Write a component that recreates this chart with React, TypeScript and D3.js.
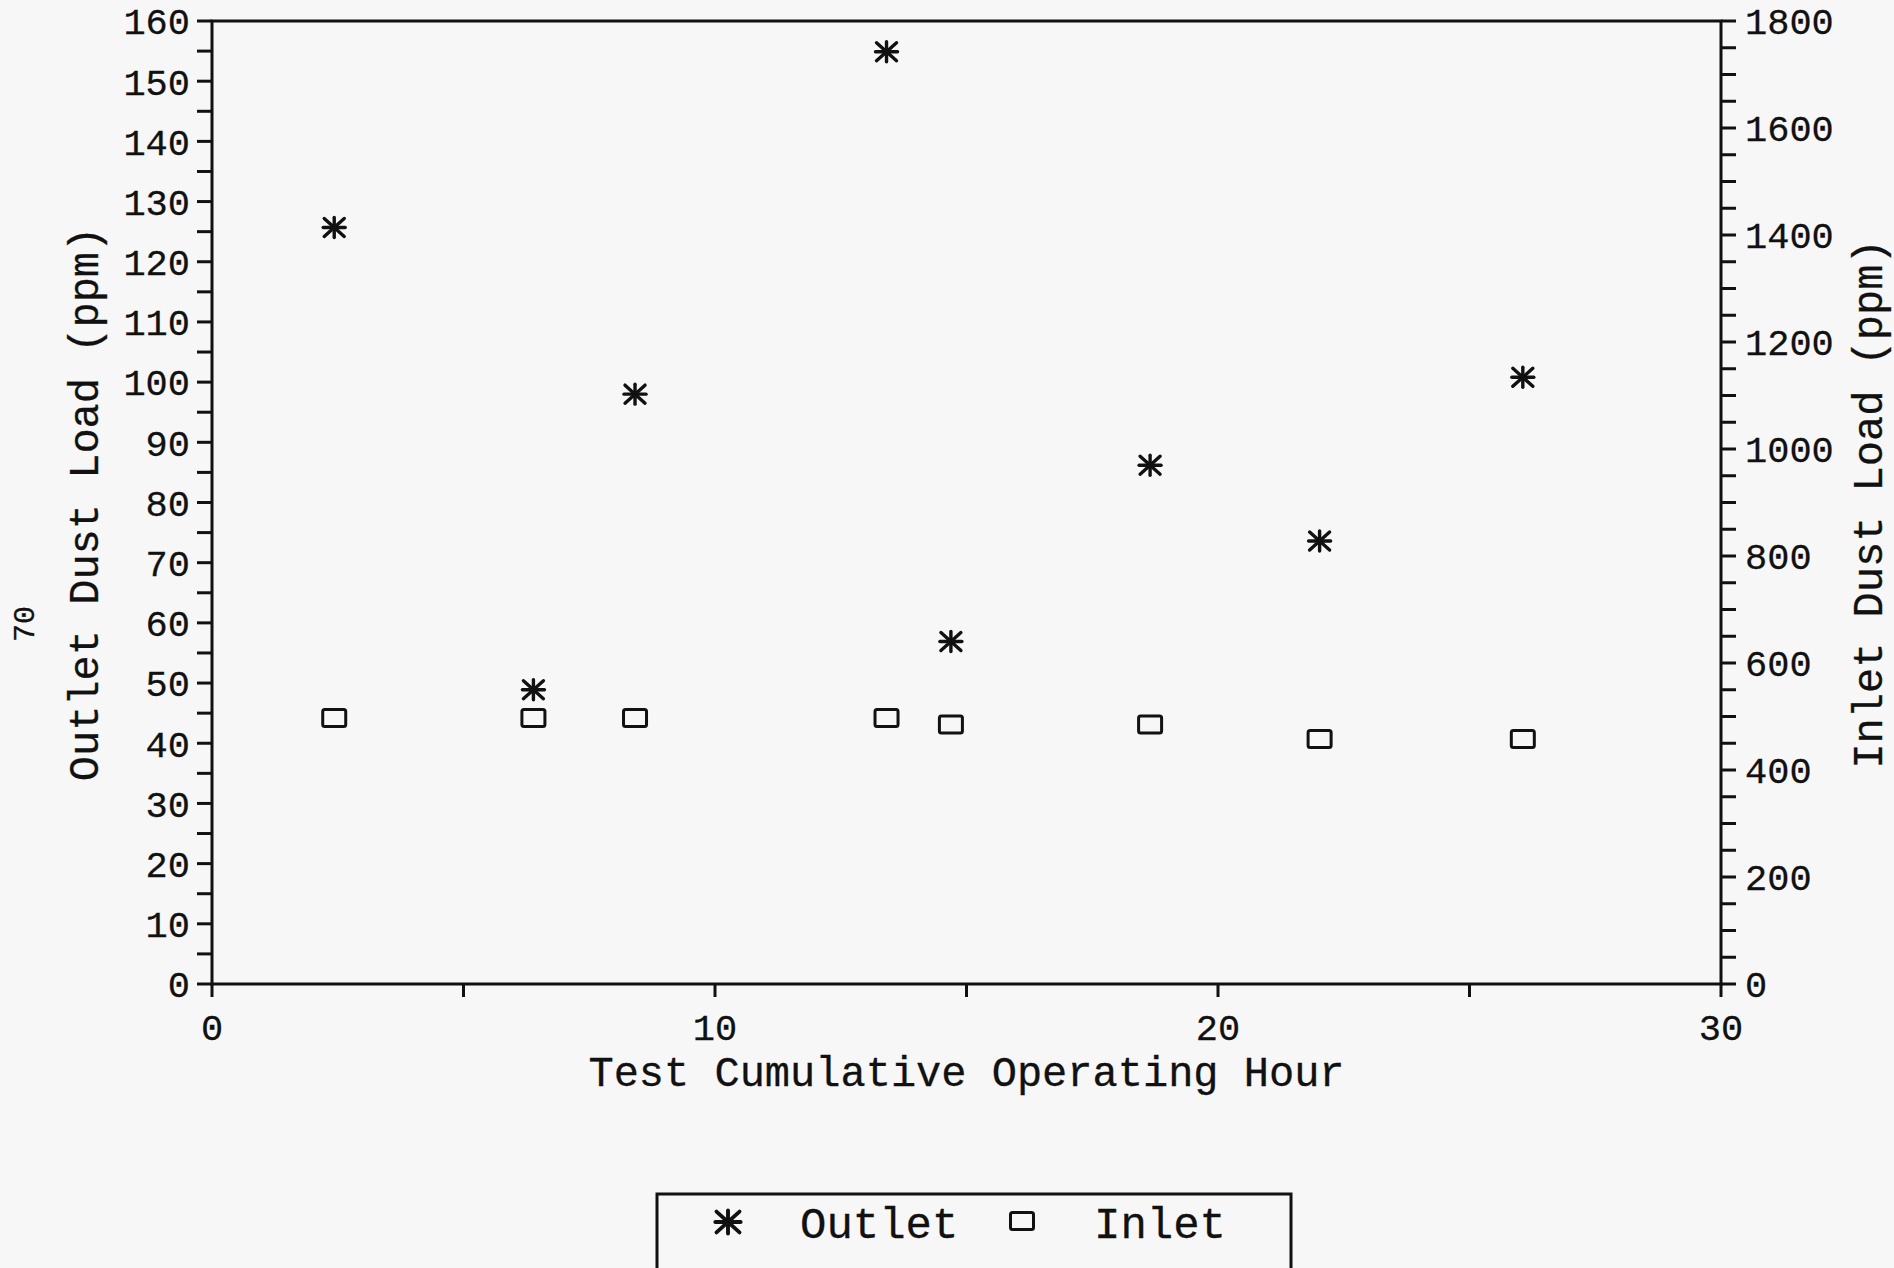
import React from "react";
import * as d3 from "d3";

const hours = [2.43, 6.39, 8.41, 13.41, 14.69, 18.65, 22.02, 26.06];
const outletPpm = [125.7, 48.9, 98.0, 154.9, 56.9, 86.2, 73.6, 100.8];
const inletPpm = [497, 497, 497, 497, 485, 485, 458, 458];
const xTickLabels = [0, 10, 20, 30];
const leftTickLabels = [0, 10, 20, 30, 40, 50, 60, 70, 80, 90, 100, 110, 120, 130, 140, 150, 160];
const rightTickLabels = [0, 200, 400, 600, 800, 1000, 1200, 1400, 1600, 1800];
const legendItems = ["Outlet", "Inlet"];

const W = 1894;
const H = 1268;
const L = 212;
const R = 1721;
const T = 21;
const B = 984;
const FONT = "'Liberation Mono', 'Courier New', monospace";
const INK = "#111";

function Asterisk({ x, y, s = 1 }: { x: number; y: number; s?: number }) {
  return (
    <g transform={`translate(${x},${y}) scale(${s})`} stroke={INK} strokeWidth={3.4} strokeLinecap="round">
      <line x1={-11} y1={0} x2={11} y2={0} />
      <line x1={0} y1={-10} x2={0} y2={10} />
      <line x1={-10} y1={-9} x2={10} y2={9} />
      <line x1={-10} y1={9} x2={10} y2={-9} />
    </g>
  );
}

function Square({ x, y }: { x: number; y: number }) {
  return (
    <rect x={x - 11.5} y={y - 8.5} width={23} height={17} rx={2} fill="none" stroke={INK} strokeWidth={3} />
  );
}

export default function App() {
  const x = d3.scaleLinear().domain([0, 30]).range([L, R]);
  const yL = d3.scaleLinear().domain([0, 160]).range([B, T]);
  const yR = d3.scaleLinear().domain([0, 1800]).range([B, T]);

  const xTicks = d3.range(0, 30.001, 5);
  const lTicks = d3.range(0, 160.001, 5);
  const rTicks = d3.range(0, 1800.001, 50);

  const txt = { fill: INK, stroke: INK, strokeWidth: 0.3 };

  return (
    <svg
      width={W}
      height={H}
      style={{ position: "absolute", left: 0, top: 0, background: "#f7f7f7" }}
      fontFamily={FONT}
    >
      <rect x={0} y={0} width={W} height={H} fill="#f7f7f7" />
      <rect x={L} y={T} width={R - L} height={B - T} fill="none" stroke={INK} strokeWidth={3} />

      {lTicks.map((v) => (
        <line key={"l" + v} x1={L - 15} x2={L} y1={yL(v)} y2={yL(v)} stroke={INK} strokeWidth={3} />
      ))}
      {leftTickLabels.map((v) => (
        <text key={"lt" + v} x={190} y={yL(v)} dy="0.36em" textAnchor="end" fontSize={37} {...txt}>
          {v}
        </text>
      ))}

      {rTicks.map((v) => (
        <line key={"r" + v} x1={R} x2={R + 15} y1={yR(v)} y2={yR(v)} stroke={INK} strokeWidth={3} />
      ))}
      {rightTickLabels.map((v) => (
        <text key={"rt" + v} x={1745} y={yR(v)} dy="0.36em" textAnchor="start" fontSize={37} {...txt}>
          {v}
        </text>
      ))}

      {xTicks.map((v) => (
        <line key={"x" + v} x1={x(v)} x2={x(v)} y1={B} y2={B + 13} stroke={INK} strokeWidth={3} />
      ))}
      {xTickLabels.map((v) => (
        <text key={"xt" + v} x={x(v)} y={1040} textAnchor="middle" fontSize={37} {...txt}>
          {v}
        </text>
      ))}

      <text x={(L + R) / 2} y={1086} textAnchor="middle" fontSize={42} {...txt}>
        Test Cumulative Operating Hour
      </text>
      <text transform={`translate(${98},${504}) rotate(-90)`} textAnchor="middle" fontSize={42} {...txt}>
        Outlet Dust Load (ppm)
      </text>
      <text transform={`translate(${1882},${504}) rotate(-90)`} textAnchor="middle" fontSize={42} {...txt}>
        Inlet Dust Load (ppm)
      </text>
      <text transform={`translate(${34},${624}) rotate(-90)`} textAnchor="middle" fontSize={30} {...txt}>
        70
      </text>

      {hours.map((h, i) => (
        <Square key={"s" + i} x={x(h)} y={yR(inletPpm[i])} />
      ))}
      {hours.map((h, i) => (
        <Asterisk key={"a" + i} x={x(h)} y={yL(outletPpm[i])} />
      ))}

      <rect x={657} y={1194} width={634} height={100} fill="none" stroke={INK} strokeWidth={3} />
      <Asterisk x={728} y={1222} s={1.15} />
      <text x={800} y={1238} fontSize={44} {...txt}>
        {legendItems[0]}
      </text>
      <Square x={1022} y={1221} />
      <text x={1094} y={1238} fontSize={44} {...txt}>
        {legendItems[1]}
      </text>
    </svg>
  );
}
